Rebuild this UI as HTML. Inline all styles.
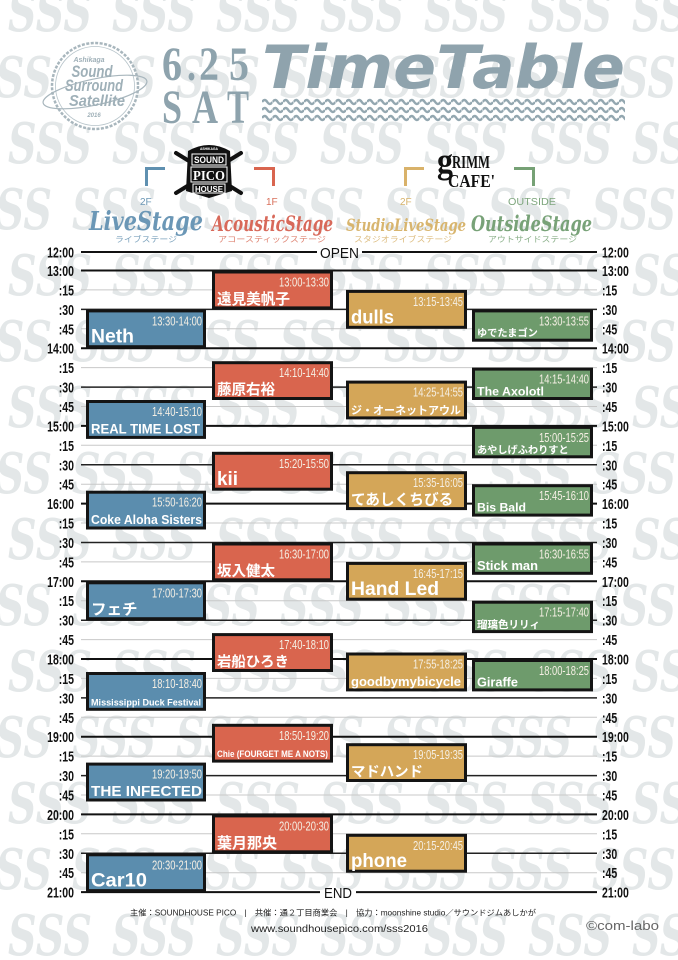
<!DOCTYPE html>
<html><head><meta charset="utf-8">
<style>html,body{margin:0;padding:0;background:#fff}svg{display:block}</style>
</head><body>
<svg xmlns="http://www.w3.org/2000/svg" width="678" height="960" viewBox="0 0 678 960">
<defs>
<pattern id="sss" width="104" height="132" x="0" y="-11" patternUnits="userSpaceOnUse">
<g font-family="DejaVu Serif, serif" font-weight="bold" font-style="italic" font-size="56" fill="#e3e7e8">
<text x="8" y="42" textLength="84" lengthAdjust="spacingAndGlyphs">SSS</text>
<text x="-32" y="108" textLength="84" lengthAdjust="spacingAndGlyphs">SSS</text>
<text x="72" y="108" textLength="84" lengthAdjust="spacingAndGlyphs">SSS</text>
</g>
</pattern>
<pattern id="wave" width="10.5" height="8" x="262" y="98" patternUnits="userSpaceOnUse">
<path d="M0,4 Q2.625,0 5.25,4 T10.5,4" fill="none" stroke="#93a7b0" stroke-width="2.4"/>
</pattern>
</defs>
<rect width="678" height="960" fill="#fff"/>
<rect width="678" height="960" fill="url(#sss)"/>

<!-- Logo circle -->
<circle cx="95" cy="86" r="43" fill="#fff" stroke="#a8b6bd" stroke-width="2.5" stroke-dasharray="3 1.5"/>
<circle cx="95" cy="86" r="39.5" fill="none" stroke="#b6c3c9" stroke-width="0.8"/>
<ellipse cx="95" cy="92" rx="53" ry="13" transform="rotate(-12 95 92)" fill="none" stroke="#a8b6bd" stroke-width="1.2"/>
<g font-family="Liberation Sans, sans-serif" font-weight="bold" font-style="italic" fill="#9fb0b8" text-anchor="middle">
<text x="89" y="62" font-size="7">Ashikaga</text>
<text x="92" y="77" font-size="17" textLength="41" lengthAdjust="spacingAndGlyphs">Sound</text>
<text x="94" y="91" font-size="17" textLength="58" lengthAdjust="spacingAndGlyphs">Surround</text>
<text x="97" y="106" font-size="16" textLength="56" lengthAdjust="spacingAndGlyphs">Satellite</text>
<text x="94" y="117" font-size="6">2016</text>
</g>

<!-- Date -->
<g font-family="Liberation Serif, serif" font-weight="bold" font-size="48" fill="#8ea3ad">
<text x="162" y="80" textLength="20" lengthAdjust="spacingAndGlyphs">6</text>
<text x="187" y="80" textLength="9" lengthAdjust="spacingAndGlyphs">.</text>
<text x="199" y="80" textLength="20" lengthAdjust="spacingAndGlyphs">2</text>
<text x="229" y="80" textLength="20" lengthAdjust="spacingAndGlyphs">5</text>
<text x="162" y="123" textLength="20" lengthAdjust="spacingAndGlyphs">S</text>
<text x="192" y="123" textLength="26" lengthAdjust="spacingAndGlyphs">A</text>
<text x="227" y="123" textLength="22" lengthAdjust="spacingAndGlyphs">T</text>
</g>

<!-- Title -->
<text x="262" y="88" font-family="DejaVu Sans, sans-serif" font-weight="bold" font-style="italic" font-size="60" fill="#8fa3ad" textLength="363" lengthAdjust="spacingAndGlyphs">TimeTable</text>
<rect x="262" y="98" width="363" height="24" fill="url(#wave)"/>

<!-- PICO HOUSE logo -->
<line x1="176" y1="153" x2="241" y2="193" stroke="#111" stroke-width="4" stroke-linecap="round"/>
<line x1="241" y1="153" x2="176" y2="193" stroke="#111" stroke-width="4" stroke-linecap="round"/>
<path d="M188 151 Q209 139 230 151 L232 191 L209 198 L186 191 Z" fill="#111"/>
<rect x="192" y="154" width="34" height="11" fill="none" stroke="#fff" stroke-width="1"/>
<rect x="191" y="167" width="36" height="15" fill="none" stroke="#fff" stroke-width="1"/>
<rect x="193" y="184" width="32" height="9" fill="none" stroke="#fff" stroke-width="1"/>
<g font-family="Liberation Sans, sans-serif" font-weight="bold" fill="#fff">
<text x="194" y="163" font-size="9" textLength="30" lengthAdjust="spacingAndGlyphs">SOUND</text>
<text x="193" y="180" font-size="14" font-family="Liberation Serif, serif" textLength="32" lengthAdjust="spacingAndGlyphs">PICO</text>
<text x="195" y="192" font-size="8" textLength="28" lengthAdjust="spacingAndGlyphs">HOUSE</text>
<text x="200" y="150" font-size="4" textLength="18" lengthAdjust="spacingAndGlyphs">ASHIKAGA</text>
</g>

<!-- GRIMM CAFE -->
<g font-family="Liberation Serif, serif" font-weight="bold" fill="#111">
<text x="437" y="173" font-size="36" textLength="16" lengthAdjust="spacingAndGlyphs">g</text>
<text x="452" y="168" font-size="18" textLength="38" lengthAdjust="spacingAndGlyphs">RIMM</text>
<text x="448" y="187" font-size="18" textLength="47" lengthAdjust="spacingAndGlyphs">CAFE'</text>
</g>

<!-- Brackets -->
<path d="M146.5 186 V168.5 H165" stroke="#5f90b0" stroke-width="3" fill="none"/>
<path d="M254 168.5 H273.5 V186" stroke="#d9654f" stroke-width="3" fill="none"/>
<path d="M405.5 186 V168.5 H424" stroke="#d9b26a" stroke-width="3" fill="none"/>
<path d="M514 168.5 H533.5 V186" stroke="#76a175" stroke-width="3" fill="none"/>

<!-- Floors -->
<g font-family="Liberation Sans, sans-serif" font-size="10">
<text x="140" y="205" fill="#6d98b6">2F</text>
<text x="266" y="205" fill="#d9705b">1F</text>
<text x="400" y="205" fill="#d8b46d">2F</text>
<text x="508" y="205" fill="#7ea67d" textLength="48" lengthAdjust="spacingAndGlyphs">OUTSIDE</text>
</g>

<!-- Stage names -->
<g font-family="DejaVu Serif, serif" font-weight="bold" font-style="italic">
<text x="89" y="230" font-size="26" fill="#6b97b6" textLength="114" lengthAdjust="spacingAndGlyphs">LiveStage</text>
<text x="212" y="231" font-size="21" fill="#d8695a" textLength="121" lengthAdjust="spacingAndGlyphs">AcousticStage</text>
<text x="346" y="231" font-size="17" fill="#d8b56e" textLength="120" lengthAdjust="spacingAndGlyphs">StudioLiveStage</text>
<text x="471" y="231" font-size="21" fill="#78a278" textLength="121" lengthAdjust="spacingAndGlyphs">OutsideStage</text>
</g>
<g font-family="Liberation Sans, Noto Sans CJK JP, sans-serif" font-size="8">
<text x="115" y="242" fill="#7da3bd" textLength="62" lengthAdjust="spacingAndGlyphs">ライブステージ</text>
<text x="218" y="242" fill="#df8574" textLength="108" lengthAdjust="spacingAndGlyphs">アコースティックステージ</text>
<text x="354" y="242" fill="#ddbd80" textLength="98" lengthAdjust="spacingAndGlyphs">スタジオライブステージ</text>
<text x="488" y="242" fill="#8bb08a" textLength="89" lengthAdjust="spacingAndGlyphs">アウトサイドステージ</text>
</g>

<!-- Grid lines -->
<g stroke="#c8c8c8" stroke-width="1">
<line x1="81" x2="597" y1="289.9" y2="289.9"/>
<line x1="81" x2="597" y1="328.8" y2="328.8"/>
<line x1="81" x2="597" y1="367.6" y2="367.6"/>
<line x1="81" x2="597" y1="406.5" y2="406.5"/>
<line x1="81" x2="597" y1="445.3" y2="445.3"/>
<line x1="81" x2="597" y1="484.2" y2="484.2"/>
<line x1="81" x2="597" y1="523.0" y2="523.0"/>
<line x1="81" x2="597" y1="561.9" y2="561.9"/>
<line x1="81" x2="597" y1="600.7" y2="600.7"/>
<line x1="81" x2="597" y1="639.6" y2="639.6"/>
<line x1="81" x2="597" y1="678.4" y2="678.4"/>
<line x1="81" x2="597" y1="717.3" y2="717.3"/>
<line x1="81" x2="597" y1="756.1" y2="756.1"/>
<line x1="81" x2="597" y1="795.0" y2="795.0"/>
<line x1="81" x2="597" y1="833.8" y2="833.8"/>
<line x1="81" x2="597" y1="872.7" y2="872.7"/>
</g>
<g stroke="#222" stroke-width="1.5">
<line x1="81" x2="597" y1="309.4" y2="309.4"/>
<line x1="81" x2="597" y1="387.1" y2="387.1"/>
<line x1="81" x2="597" y1="464.8" y2="464.8"/>
<line x1="81" x2="597" y1="542.5" y2="542.5"/>
<line x1="81" x2="597" y1="620.2" y2="620.2"/>
<line x1="81" x2="597" y1="697.9" y2="697.9"/>
<line x1="81" x2="597" y1="775.6" y2="775.6"/>
<line x1="81" x2="597" y1="853.3" y2="853.3"/>
</g>
<g stroke="#111" stroke-width="2">
<line x1="81" x2="317" y1="252" y2="252"/>
<line x1="362" x2="597" y1="252" y2="252"/>
<line x1="81" x2="597" y1="270.5" y2="270.5"/>
<line x1="81" x2="597" y1="348.2" y2="348.2"/>
<line x1="81" x2="597" y1="425.9" y2="425.9"/>
<line x1="81" x2="597" y1="503.6" y2="503.6"/>
<line x1="81" x2="597" y1="581.3" y2="581.3"/>
<line x1="81" x2="597" y1="659.0" y2="659.0"/>
<line x1="81" x2="597" y1="736.7" y2="736.7"/>
<line x1="81" x2="597" y1="814.4" y2="814.4"/>
<line x1="81" x2="320" y1="892.1" y2="892.1"/>
<line x1="356" x2="597" y1="892.1" y2="892.1"/>
</g>
<g font-family="Liberation Sans, sans-serif" font-size="15" fill="#111">
<text x="320" y="258" textLength="39" lengthAdjust="spacingAndGlyphs">OPEN</text>
<text x="324" y="898" textLength="28" lengthAdjust="spacingAndGlyphs">END</text>
</g>

<!-- Axis labels -->
<g font-family="Liberation Sans, sans-serif" font-weight="bold" font-size="15" fill="#111" transform="scale(0.7 1)">
<g text-anchor="end">
<text x="105.7" y="257.5">12:00</text>
<text x="105.7" y="276">13:00</text>
<text x="105.7" y="295.4">:15</text>
<text x="105.7" y="314.9">:30</text>
<text x="105.7" y="334.3">:45</text>
<text x="105.7" y="353.7">14:00</text>
<text x="105.7" y="373.1">:15</text>
<text x="105.7" y="392.6">:30</text>
<text x="105.7" y="412">:45</text>
<text x="105.7" y="431.4">15:00</text>
<text x="105.7" y="450.8">:15</text>
<text x="105.7" y="470.3">:30</text>
<text x="105.7" y="489.7">:45</text>
<text x="105.7" y="509.1">16:00</text>
<text x="105.7" y="528.5">:15</text>
<text x="105.7" y="548">:30</text>
<text x="105.7" y="567.4">:45</text>
<text x="105.7" y="586.8">17:00</text>
<text x="105.7" y="606.2">:15</text>
<text x="105.7" y="625.7">:30</text>
<text x="105.7" y="645.1">:45</text>
<text x="105.7" y="664.5">18:00</text>
<text x="105.7" y="683.9">:15</text>
<text x="105.7" y="703.4">:30</text>
<text x="105.7" y="722.8">:45</text>
<text x="105.7" y="742.2">19:00</text>
<text x="105.7" y="761.6">:15</text>
<text x="105.7" y="781.1">:30</text>
<text x="105.7" y="800.5">:45</text>
<text x="105.7" y="819.9">20:00</text>
<text x="105.7" y="839.3">:15</text>
<text x="105.7" y="858.8">:30</text>
<text x="105.7" y="878.2">:45</text>
<text x="105.7" y="897.6">21:00</text>
</g>
<g>
<text x="860" y="257.5">12:00</text>
<text x="860" y="276">13:00</text>
<text x="860" y="295.4">:15</text>
<text x="860" y="314.9">:30</text>
<text x="860" y="334.3">:45</text>
<text x="860" y="353.7">14:00</text>
<text x="860" y="373.1">:15</text>
<text x="860" y="392.6">:30</text>
<text x="860" y="412">:45</text>
<text x="860" y="431.4">15:00</text>
<text x="860" y="450.8">:15</text>
<text x="860" y="470.3">:30</text>
<text x="860" y="489.7">:45</text>
<text x="860" y="509.1">16:00</text>
<text x="860" y="528.5">:15</text>
<text x="860" y="548">:30</text>
<text x="860" y="567.4">:45</text>
<text x="860" y="586.8">17:00</text>
<text x="860" y="606.2">:15</text>
<text x="860" y="625.7">:30</text>
<text x="860" y="645.1">:45</text>
<text x="860" y="664.5">18:00</text>
<text x="860" y="683.9">:15</text>
<text x="860" y="703.4">:30</text>
<text x="860" y="722.8">:45</text>
<text x="860" y="742.2">19:00</text>
<text x="860" y="761.6">:15</text>
<text x="860" y="781.1">:30</text>
<text x="860" y="800.5">:45</text>
<text x="860" y="819.9">20:00</text>
<text x="860" y="839.3">:15</text>
<text x="860" y="858.8">:30</text>
<text x="860" y="878.2">:45</text>
<text x="860" y="897.6">21:00</text>
</g>
</g>

<!-- Blocks -->
<g stroke="#141414" stroke-width="3">
<rect x="87.5" y="310.9" width="117" height="35.8" fill="#5b8dae"/>
<rect x="87.5" y="401.5" width="117" height="35.9" fill="#5b8dae"/>
<rect x="87.5" y="492.2" width="117" height="35.8" fill="#5b8dae"/>
<rect x="87.5" y="582.8" width="117" height="35.9" fill="#5b8dae"/>
<rect x="87.5" y="673.5" width="117" height="35.8" fill="#5b8dae"/>
<rect x="87.5" y="764.1" width="117" height="35.9" fill="#5b8dae"/>
<rect x="87.5" y="854.8" width="117" height="35.8" fill="#5b8dae"/>
<rect x="213.5" y="272" width="118" height="35.9" fill="#d9654e"/>
<rect x="213.5" y="362.7" width="118" height="35.8" fill="#d9654e"/>
<rect x="213.5" y="453.3" width="118" height="35.9" fill="#d9654e"/>
<rect x="213.5" y="544" width="118" height="35.8" fill="#d9654e"/>
<rect x="213.5" y="634.6" width="118" height="35.9" fill="#d9654e"/>
<rect x="213.5" y="725.3" width="118" height="35.8" fill="#d9654e"/>
<rect x="213.5" y="815.9" width="118" height="35.9" fill="#d9654e"/>
<rect x="347.5" y="291.4" width="118" height="35.9" fill="#d4a658"/>
<rect x="347.5" y="382.1" width="118" height="35.8" fill="#d4a658"/>
<rect x="347.5" y="472.7" width="118" height="35.9" fill="#d4a658"/>
<rect x="347.5" y="563.4" width="118" height="35.8" fill="#d4a658"/>
<rect x="347.5" y="654" width="118" height="35.9" fill="#d4a658"/>
<rect x="347.5" y="744.7" width="118" height="35.8" fill="#d4a658"/>
<rect x="347.5" y="835.3" width="118" height="35.9" fill="#d4a658"/>
<rect x="473.5" y="310.9" width="118" height="29.3" fill="#6e9b6c"/>
<rect x="473.5" y="369.1" width="118" height="29.4" fill="#6e9b6c"/>
<rect x="473.5" y="427.4" width="118" height="29.4" fill="#6e9b6c"/>
<rect x="473.5" y="485.7" width="118" height="29.4" fill="#6e9b6c"/>
<rect x="473.5" y="544" width="118" height="29.3" fill="#6e9b6c"/>
<rect x="473.5" y="602.2" width="118" height="29.4" fill="#6e9b6c"/>
<rect x="473.5" y="660.5" width="118" height="29.4" fill="#6e9b6c"/>
</g>

<!-- Block times -->
<g font-family="Liberation Sans, sans-serif" font-size="13" fill="#f5efe4">
<text x="152" y="325.4" textLength="50" lengthAdjust="spacingAndGlyphs">13:30-14:00</text>
<text x="152" y="416" textLength="50" lengthAdjust="spacingAndGlyphs">14:40-15:10</text>
<text x="152" y="506.7" textLength="50" lengthAdjust="spacingAndGlyphs">15:50-16:20</text>
<text x="152" y="597.3" textLength="50" lengthAdjust="spacingAndGlyphs">17:00-17:30</text>
<text x="152" y="688" textLength="50" lengthAdjust="spacingAndGlyphs">18:10-18:40</text>
<text x="152" y="778.6" textLength="50" lengthAdjust="spacingAndGlyphs">19:20-19:50</text>
<text x="152" y="869.3" textLength="50" lengthAdjust="spacingAndGlyphs">20:30-21:00</text>

<text x="279" y="286.5" textLength="50" lengthAdjust="spacingAndGlyphs">13:00-13:30</text>
<text x="279" y="377.2" textLength="50" lengthAdjust="spacingAndGlyphs">14:10-14:40</text>
<text x="279" y="467.8" textLength="50" lengthAdjust="spacingAndGlyphs">15:20-15:50</text>
<text x="279" y="558.5" textLength="50" lengthAdjust="spacingAndGlyphs">16:30-17:00</text>
<text x="279" y="649.1" textLength="50" lengthAdjust="spacingAndGlyphs">17:40-18:10</text>
<text x="279" y="739.8" textLength="50" lengthAdjust="spacingAndGlyphs">18:50-19:20</text>
<text x="279" y="830.4" textLength="50" lengthAdjust="spacingAndGlyphs">20:00-20:30</text>

<text x="413" y="305.9" textLength="50" lengthAdjust="spacingAndGlyphs">13:15-13:45</text>
<text x="413" y="396.6" textLength="50" lengthAdjust="spacingAndGlyphs">14:25-14:55</text>
<text x="413" y="487.2" textLength="50" lengthAdjust="spacingAndGlyphs">15:35-16:05</text>
<text x="413" y="577.9" textLength="50" lengthAdjust="spacingAndGlyphs">16:45-17:15</text>
<text x="413" y="668.5" textLength="50" lengthAdjust="spacingAndGlyphs">17:55-18:25</text>
<text x="413" y="759.2" textLength="50" lengthAdjust="spacingAndGlyphs">19:05-19:35</text>
<text x="413" y="849.8" textLength="50" lengthAdjust="spacingAndGlyphs">20:15-20:45</text>

<text x="539" y="325.4" textLength="50" lengthAdjust="spacingAndGlyphs">13:30-13:55</text>
<text x="539" y="383.6" textLength="50" lengthAdjust="spacingAndGlyphs">14:15-14:40</text>
<text x="539" y="441.9" textLength="50" lengthAdjust="spacingAndGlyphs">15:00-15:25</text>
<text x="539" y="500.2" textLength="50" lengthAdjust="spacingAndGlyphs">15:45-16:10</text>
<text x="539" y="558.5" textLength="50" lengthAdjust="spacingAndGlyphs">16:30-16:55</text>
<text x="539" y="616.7" textLength="50" lengthAdjust="spacingAndGlyphs">17:15-17:40</text>
<text x="539" y="675" textLength="50" lengthAdjust="spacingAndGlyphs">18:00-18:25</text>
</g>

<!-- Block names -->
<g font-family="Liberation Sans, Noto Sans CJK JP, sans-serif" font-weight="bold" fill="#ffffff">
<text x="91" y="342.7" font-size="19" textLength="43" lengthAdjust="spacingAndGlyphs">Neth</text>
<text x="91" y="433.4" font-size="14" textLength="109" lengthAdjust="spacingAndGlyphs">REAL TIME LOST</text>
<text x="91" y="524" font-size="12.5" textLength="111" lengthAdjust="spacingAndGlyphs">Coke Aloha Sisters</text>
<text x="91" y="614.7" font-size="15.5">フェチ</text>
<text x="91" y="705.3" font-size="9.5" textLength="110" lengthAdjust="spacingAndGlyphs">Mississippi Duck Festival</text>
<text x="91" y="796" font-size="15" textLength="111" lengthAdjust="spacingAndGlyphs">THE INFECTED</text>
<text x="91" y="886.6" font-size="19" textLength="56" lengthAdjust="spacingAndGlyphs">Car10</text>

<text x="217" y="303.9" font-size="14.6">遠見美帆子</text>
<text x="217" y="394.5" font-size="14.5">藤原右裕</text>
<text x="217" y="485.2" font-size="19" textLength="21" lengthAdjust="spacingAndGlyphs">kii</text>
<text x="217" y="575.8" font-size="14.5">坂入健太</text>
<text x="217" y="666.5" font-size="14.4">岩船ひろき</text>
<text x="217" y="757.1" font-size="9" textLength="111" lengthAdjust="spacingAndGlyphs">Chie (FOURGET ME A NOTS)</text>
<text x="217" y="847.8" font-size="15">葉月那央</text>

<text x="351" y="323.3" font-size="19" textLength="43" lengthAdjust="spacingAndGlyphs">dulls</text>
<text x="351" y="413.9" font-size="11">ジ・オーネットアウル</text>
<text x="351" y="504.6" font-size="14.7">てあしくちびる</text>
<text x="351" y="595.2" font-size="19" textLength="88" lengthAdjust="spacingAndGlyphs">Hand Led</text>
<text x="351" y="685.9" font-size="13" textLength="110" lengthAdjust="spacingAndGlyphs">goodbymybicycle</text>
<text x="351" y="776.5" font-size="14.4">マドハンド</text>
<text x="351" y="867.2" font-size="19" textLength="56" lengthAdjust="spacingAndGlyphs">phone</text>

<text x="477" y="336.7" font-size="10.2">ゆでたまゴン</text>
<text x="477" y="395.5" font-size="12.3" textLength="67" lengthAdjust="spacingAndGlyphs">The Axolotl</text>
<text x="477" y="453.3" font-size="10.2">あやしげふわりすと</text>
<text x="477" y="511.6" font-size="12.3" textLength="49" lengthAdjust="spacingAndGlyphs">Bis Bald</text>
<text x="477" y="569.8" font-size="13" textLength="61" lengthAdjust="spacingAndGlyphs">Stick man</text>
<text x="477" y="628.1" font-size="10.5">瑠璃色リリィ</text>
<text x="477" y="686.4" font-size="12.8" textLength="41" lengthAdjust="spacingAndGlyphs">Giraffe</text>
</g>

<!-- Footer -->
<g font-family="Liberation Sans, Noto Sans CJK JP, sans-serif">
<text x="130" y="915.5" font-size="8" fill="#222" textLength="406" lengthAdjust="spacingAndGlyphs">主催：SOUNDHOUSE PICO　|　共催：通２丁目商業会　|　協力：moonshine studio／サウンドジムあしかが</text>
<text x="251" y="932" font-size="10" fill="#222" textLength="177" lengthAdjust="spacingAndGlyphs">www.soundhousepico.com/sss2016</text>
<text x="586" y="930" font-size="13" fill="#666" textLength="73" lengthAdjust="spacingAndGlyphs">©com-labo</text>
</g>
</svg>
</body></html>
